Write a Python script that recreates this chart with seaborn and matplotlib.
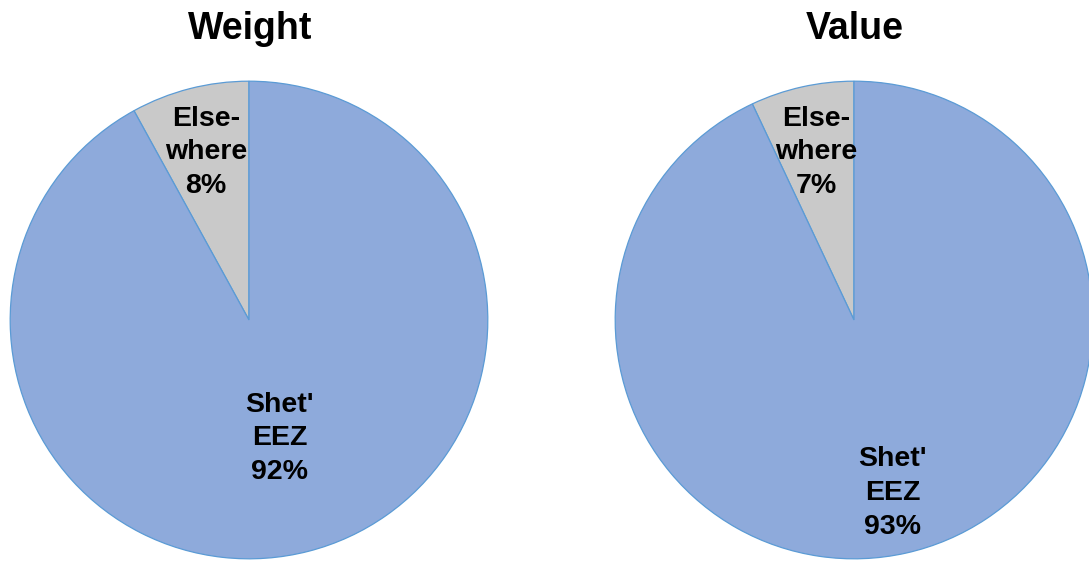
import numpy as np
import matplotlib
matplotlib.use("Agg")
import matplotlib.pyplot as plt
import seaborn as sns

# data
slice_labels = ["Else-\nwhere", "Shet'\nEEZ"]
weight_pct = [8, 92]
value_pct = [7, 93]
titles = ["Weight", "Value"]
# how far out each label sits (fraction of radius), per pie
label_dist = [[0.725, 0.512], [0.72, 0.742]]

sns.set_theme(style="white")
plt.rcParams['font.family'] = ['Liberation Sans', 'DejaVu Sans']

slice_colors = ["#c9c9c9", "#8eaadb"]
edge_color = "#5b9bd5"

fig = plt.figure(figsize=(10.89, 5.61), dpi=100)
W, H = 1089, 561
# axes placed in pixel terms: left edge, bottom, size (radius 240 px)
boxes = [(9, 1, 480), (614, 1, 480)]
title_x = [250, 855]

for i, vals in enumerate([weight_pct, value_pct]):
    x0, y0, s = boxes[i]
    ax = fig.add_axes([x0 / W, y0 / H, s / W, s / H])
    wedges, _ = ax.pie(vals, colors=slice_colors, startangle=90,
                       counterclock=True,
                       wedgeprops=dict(edgecolor=edge_color, linewidth=0.9))
    for w, lab, v, d in zip(wedges, slice_labels, vals, label_dist[i]):
        mid = np.deg2rad((w.theta1 + w.theta2) / 2)
        ax.text(d * np.cos(mid), d * np.sin(mid), f"{lab}\n{v}%",
                ha="center", va="center", fontsize=20.5, fontweight="bold",
                linespacing=1.38, color="black")
    ax.set_xlim(-1.005, 1.005)
    ax.set_ylim(-1.005, 1.005)
    ax.set_aspect("equal")
    ax.axis("off")
    fig.text(title_x[i] / W, 1 - 29 / H, titles[i], ha="center", va="center",
             fontsize=27, fontweight="bold", color="black")

fig.savefig("out.png", dpi=100)
